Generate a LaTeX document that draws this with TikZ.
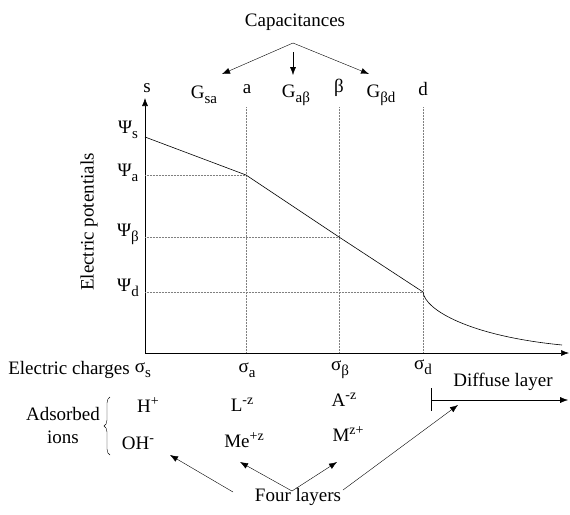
\documentclass[tikz,border=0pt]{standalone}
\usepackage{fontspec}
\setmainfont{Liberation Serif}
\usetikzlibrary{arrows.meta,decorations.pathreplacing}

\newcommand\lo[1]{\raisebox{-0.6ex}{\fontsize{15}{16}\selectfont #1}}
\newcommand\hi[1]{\raisebox{0.8ex}{\fontsize{14}{15}\selectfont #1}}

\begin{document}
\begin{tikzpicture}[x=1pt, y=-1pt, >={Latex[length=8pt,width=6pt]},
  lbl/.style={inner sep=1pt, font=\fontsize{19}{21}\selectfont},
  grid/.style={densely dotted, gray, line width=0.5pt},
  curve/.style={line width=0.6pt}]
  \useasboundingbox (0,0) rectangle (570,514);

  % axes
  \coordinate (O) at (145,353);
  \coordinate (ytop) at (145,98);
  \coordinate (xend) at (569,353);
  \draw[->, line width=0.6pt] (O) -- (ytop);
  \draw[->, line width=0.6pt] (O) -- (xend);

  % layer planes and potentials
  \coordinate (ps) at (145,137);
  \coordinate (pa) at (246,175);
  \coordinate (pb) at (339,237);
  \coordinate (pd) at (423,292);
  \coordinate (tail) at (562,345);
  \draw[grid] (246,107) -- (246,353);
  \draw[grid] (339,107) -- (339,353);
  \draw[grid] (423,107) -- (423,353);
  \draw[grid] (145,175) -- (pa);
  \draw[grid] (145,237) -- (pb);
  \draw[grid] (145,292) -- (pd);
  \draw[curve] (ps) -- (pa) -- (pb) -- (pd);
  \draw[curve] (pd) .. controls (425,310) and (470,336) .. (tail);

  % top labels
  \node[lbl] (cap) at (295,22) {Capacitances};
  \node[lbl] (s) at (147,88) {s};
  \node[lbl] (a) at (247,89) {a};
  \node[lbl] (b) at (339,88) {β};
  \node[lbl] (d) at (423,89) {d};
  \node[lbl] (gsa) at (204,95) {G\lo{sa}};
  \node[lbl] (gab) at (296,95) {G\lo{aβ}};
  \node[lbl] (gbd) at (381,95) {G\lo{βd}};
  \coordinate (capx) at (293,43);
  \coordinate (capm) at (293,52);
  \coordinate (tsa) at (222,74);
  \coordinate (tab) at (293,75);
  \coordinate (tbd) at (369,74);
  \draw[->] (capx) -- (tsa);
  \draw[->] (capm) -- (tab);
  \draw[->] (capx) -- (tbd);

  % potentials
  \node[lbl] (psis) at (128,130) {Ψ\lo{s}};
  \node[lbl] (psia) at (128,173) {Ψ\lo{a}};
  \node[lbl] (psib) at (128,234) {Ψ\lo{β}};
  \node[lbl] (psid) at (128,288) {Ψ\lo{d}};
  \node[lbl, rotate=90] (epot) at (89,222) {Electric potentials};

  % charges
  \node[lbl] (ech) at (69,370) {Electric charges};
  \node[lbl] (sgs) at (143,370) {σ\lo{s}};
  \node[lbl] (sga) at (247,370) {σ\lo{a}};
  \node[lbl] (sgb) at (340,370) {σ\lo{β}};
  \node[lbl] (sgd) at (423,367) {σ\lo{d}};

  % diffuse layer
  \coordinate (dtop) at (431,388);
  \coordinate (dbot) at (431,411);
  \coordinate (dmid) at (431,400);
  \coordinate (dend) at (568,400);
  \draw (dtop) -- (dbot);
  \draw[->] (dmid) -- (dend);
  \node[lbl] (diff) at (503,382) {Diffuse layer};

  % adsorbed ions
  \node[lbl, align=center] (ads) at (63,425) {Adsorbed\\[2pt]ions};
  \draw[decorate, decoration={brace, amplitude=6pt}] (110,455) -- (110,397);
  \node[lbl] (hp) at (148,405) {H\hi{+}};
  \node[lbl] (oh) at (138,443) {OH\hi{-}};
  \node[lbl] (lz) at (242,405) {L\hi{-z}};
  \node[lbl] (mez) at (244,440) {Me\hi{+z}};
  \node[lbl] (az) at (344,400) {A\hi{-z}};
  \node[lbl] (mz) at (348,434) {M\hi{z+}};

  % four layers
  \node[lbl] (four) at (298,497) {Four layers};
  \coordinate (fl) at (233,492);
  \coordinate (fm) at (292,491);
  \coordinate (fr) at (343,490);
  \coordinate (toh) at (170,455);
  \coordinate (tme) at (240,462);
  \coordinate (tmz) at (337,462);
  \coordinate (tdl) at (458,405);
  \draw[->] (fl) -- (toh);
  \draw[->] (fm) -- (tme);
  \draw[->] (fm) -- (tmz);
  \draw[->] (fr) -- (tdl);
\end{tikzpicture}
\end{document}
